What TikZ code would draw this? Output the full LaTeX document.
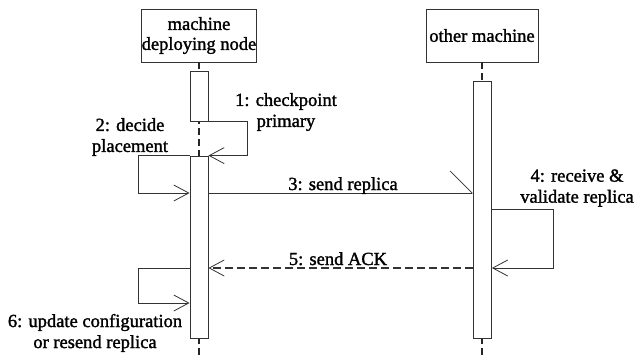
\documentclass[tikz,border=0pt]{standalone}
\usepackage{fontspec}
\setmainfont[FakeBold=1.5]{Liberation Serif}
\usetikzlibrary{arrows.meta}
\begin{document}
\begin{tikzpicture}[x=1pt,y=-1pt,
  font=\fontsize{18.5}{21}\selectfont,
  line/.style={draw=black!80, line width=0.8pt},
  header/.style={line, rectangle, minimum width=112pt, minimum height=53pt, inner sep=0pt, align=center},
  act/.style={line, rectangle, fill=white, minimum width=18pt, inner sep=0pt},
  lifeline/.style={draw=black!85, line width=1.6pt, dash pattern=on 7pt off 4pt},
  msg/.style={line, -{Straight Barb[length=15pt,width=16pt,line width=0.8pt]}},
  halfmsg/.style={line, -{Straight Barb[left,length=22pt,width=44pt,line width=0.8pt]}},
  reply/.style={msg, dash pattern=on 8pt off 4pt, line width=1.2pt},
  lbl/.style={align=center, inner sep=0pt}]
\useasboundingbox (0,0) rectangle (635,357);

% participants
\node[header] (hl) at (199,35.5) {machine\\[-1pt]deploying node};
\node[header] (hr) at (482,35.5) {other machine};

% lifelines
\coordinate (endl) at (199,357);
\coordinate (endr) at (482,357);
\draw[lifeline] (hl.south) -- (endl);
\draw[lifeline] (hr.south) -- (endr);

% activation bars
\node[act, minimum height=50pt] (a1) at (199,96) {};
\node[act, minimum height=182pt] (a2) at (199,247) {};
\node[act, minimum height=257pt] (b1) at (482.5,209.5) {};

% message levels
\coordinate (y3) at (0,193);
\coordinate (y4) at (0,209);
\coordinate (y5) at (0,268);
\coordinate (y6) at (0,303);

% 1: checkpoint primary (self call)
\draw[msg] (a1.south east) -- ++(39,0) |- (a2.north east);
% 2: decide placement (self call)
\draw[msg] (a2.north west) -- ++(-51,0) |- (a2.west |- y3);
% 3: send replica
\draw[halfmsg] (a2.east |- y3) -- (b1.west |- y3);
% 4: receive & validate replica (self call)
\draw[msg] (b1.east |- y4) -- ++(61,0) |- (b1.east |- y5);
% 5: send ACK
\draw[reply] (b1.west |- y5) -- (a2.east |- y5);
% 6: update configuration (self call)
\draw[msg] (a2.west |- y5) -- ++(-51,0) |- (a2.west |- y6);

% labels
\node[lbl] (l1) at (286,112) {1: checkpoint\\primary};
\node[lbl] (l2) at (130,137) {2: decide\\placement};
\node[lbl, anchor=base] (l3) at (343,190) {3: send replica};
\node[lbl] (l4) at (577,188) {4: receive \&\\validate replica};
\node[lbl, anchor=base] (l5) at (338,265) {5: send ACK};
\node[lbl] (l6) at (95,333) {6: update configuration\\or resend replica};
\end{tikzpicture}
\end{document}
